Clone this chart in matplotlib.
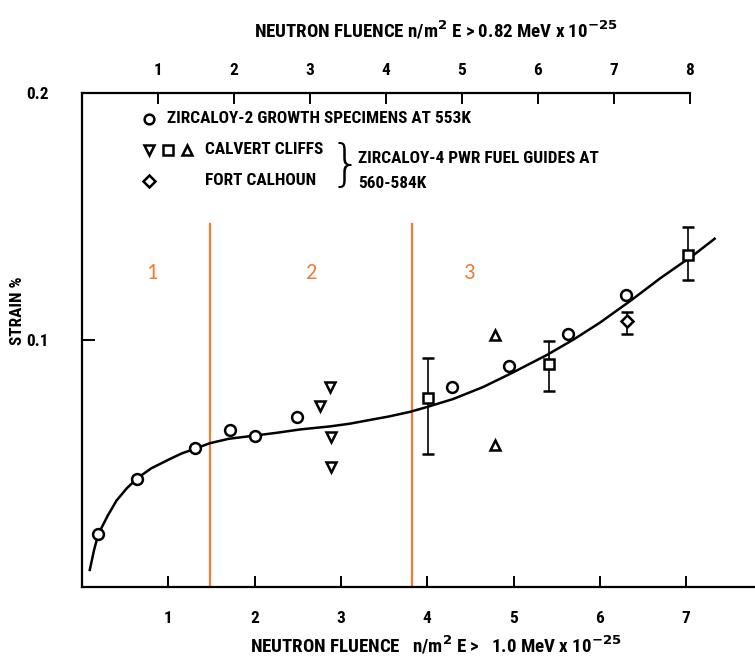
import matplotlib
matplotlib.use("Agg")
import matplotlib.pyplot as plt
from matplotlib import font_manager

# pick a narrow face if one is installed, the scan uses a condensed lettering
names = {f.name for f in font_manager.fontManager.ttflist}
narrow = [n for n in ['Liberation Sans Narrow', 'DejaVu Sans Condensed', 'Roboto Condensed',
                      'Open Sans Condensed'] if n in names]
plt.rcParams['font.family'] = narrow + ['DejaVu Sans']
plt.rcParams['font.weight'] = 'bold'
plt.rcParams['axes.labelweight'] = 'bold'
txt_size = 12.4 if narrow else 10

# Zircaloy-2 growth specimens (circles)
zr2_x = [0.19, 0.64, 1.31, 1.71, 2.01, 2.49, 4.29, 4.95, 5.63, 6.30]
zr2_y = [0.0215, 0.0439, 0.0561, 0.0634, 0.0610, 0.0687, 0.0810, 0.0894, 0.1024, 0.1183]

# Calvert Cliffs
cc_down_x = [2.87, 2.76, 2.88, 2.88]
cc_down_y = [0.0810, 0.0732, 0.0606, 0.0484]
cc_sq_x = [4.01, 5.41, 7.02]
cc_sq_y = [0.0764, 0.0902, 0.1346]
cc_sq_lo = [0.0537, 0.0793, 0.1244]
cc_sq_hi = [0.0927, 0.0996, 0.1459]
cc_up_x = [4.79, 4.78]
cc_up_y = [0.1020, 0.0573]

# Fort Calhoun
fc_x = [6.31]
fc_y = [0.1077]
fc_lo = [0.1024]
fc_hi = [0.1114]

curve_x = [0.09, 0.14, 0.19, 0.3, 0.4, 0.52, 0.64, 0.8, 1.0, 1.15, 1.31, 1.48, 1.7,
           2.0, 2.25, 2.53, 2.87, 3.1, 3.3, 3.55, 3.8, 4.0, 4.3, 4.65, 4.99, 5.39,
           5.7, 6.0, 6.36, 6.7, 7.09, 7.33]
curve_y = [0.0069, 0.0150, 0.0215, 0.0290, 0.0350, 0.0400, 0.0440, 0.0480, 0.0515,
           0.0540, 0.0560, 0.0582, 0.0600, 0.0613, 0.0624, 0.0638, 0.0650, 0.0661,
           0.0674, 0.0690, 0.0709, 0.0729, 0.0761, 0.0810, 0.0868, 0.0940, 0.1003,
           0.1070, 0.1160, 0.1250, 0.1345, 0.1410]

stage_lines = [1.48, 3.82]
stage_labels = ['1', '2', '3']
stage_label_x = [0.81, 2.66, 4.49]

fig = plt.figure(figsize=(7.55, 6.64), dpi=100)
ax = fig.add_axes([82 / 755, 77 / 664, 0.9374, 0.744])
ax.set_xlim(0, 8.2)
ax.set_ylim(0, 0.2)

orange = '#ED7D31'
for xv in stage_lines:
    ax.plot([xv, xv], [0, 0.147], color=orange, lw=1.6, zorder=1)
for lab, xv in zip(stage_labels, stage_label_x):
    ax.text(xv, 0.127, lab, color=orange, fontsize=16, fontweight='normal',
            family=['Carlito', 'Liberation Sans', 'DejaVu Sans'], ha='center', va='center')

ax.plot(curve_x, curve_y, color='black', lw=1.8, zorder=2)

mk = dict(markerfacecolor='white', markeredgecolor='black', markeredgewidth=1.8,
          linestyle='none', zorder=3)
ax.plot(zr2_x, zr2_y, marker='o', markersize=7.8, **mk)
ax.plot(cc_down_x, cc_down_y, marker='v', markersize=7, **mk)
ax.plot(cc_up_x, cc_up_y, marker='^', markersize=7, **mk)
ax.errorbar(cc_sq_x, cc_sq_y,
            yerr=[[y - lo for y, lo in zip(cc_sq_y, cc_sq_lo)],
                  [hi - y for y, hi in zip(cc_sq_y, cc_sq_hi)]],
            fmt='s', markersize=7.5, mfc='white', mec='black', mew=1.8,
            ecolor='black', elinewidth=1.2, capsize=4, capthick=1.2, zorder=3)
ax.errorbar(fc_x, fc_y,
            yerr=[[y - lo for y, lo in zip(fc_y, fc_lo)],
                  [hi - y for y, hi in zip(fc_y, fc_hi)]],
            fmt='D', markersize=6.5, mfc='white', mec='black', mew=1.8,
            ecolor='black', elinewidth=1.2, capsize=4, capthick=1.2, zorder=3)

# in-plot legend
ax.plot([0.78], [0.1895], marker='o', markersize=7, **mk)
ax.text(0.99, 0.1895, 'ZIRCALOY-2 GROWTH SPECIMENS AT 553K', fontsize=txt_size, va='center')
ax.plot([0.78], [0.177], marker='v', markersize=7, **mk)
ax.plot([1.0], [0.177], marker='s', markersize=7, **mk)
ax.plot([1.22], [0.177], marker='^', markersize=7, **mk)
ax.text(1.43, 0.177, 'CALVERT CLIFFS', fontsize=txt_size, va='center')
ax.plot([0.78], [0.1645], marker='D', markersize=6.5, **mk)
ax.text(1.43, 0.1645, 'FORT CALHOUN', fontsize=txt_size, va='center')
ax.text(3.05, 0.1705, '}', fontsize=36, fontweight='light', va='center', ha='center',
        family=['DejaVu Sans'])
ax.text(3.2, 0.1735, 'ZIRCALOY-4 PWR FUEL GUIDES AT', fontsize=txt_size, va='center')
ax.text(3.2, 0.1635, '560-584K', fontsize=txt_size, va='center')

for side in ['top', 'right']:
    ax.spines[side].set_visible(False)
ax.spines['left'].set_linewidth(1.6)
ax.spines['bottom'].set_linewidth(1.6)

ax.set_xticks([1, 2, 3, 4, 5, 6, 7, 8])
ax.set_yticks([0.1, 0.2])
ax.set_yticklabels(['0.1', '0.2'])
ax.tick_params(axis='x', direction='in', length=8, width=1.4, pad=17, labelsize=txt_size)
ax.tick_params(axis='y', direction='in', length=9, width=1.4, pad=24, labelsize=txt_size)
ax.set_xlabel('NEUTRON FLUENCE   n/m$^2$ E >   1.0 MeV x 10$^{-25}$', fontsize=txt_size + 1.2,
              labelpad=6)
ax.set_ylabel('STRAIN %', fontsize=txt_size)
ax.yaxis.set_label_coords(-0.081, 0.56)

top = ax.secondary_xaxis('top', functions=(lambda x: x / 0.88, lambda x: x * 0.88))
top.set_xticks([1, 2, 3, 4, 5, 6, 7, 8])
top.tick_params(direction='in', length=8, width=1.4, pad=11, labelsize=txt_size)
top.spines['top'].set_linewidth(1.6)
top.spines['top'].set_bounds(0, 8)
top.set_xlabel('NEUTRON FLUENCE n/m$^2$ E > 0.82 MeV x 10$^{-25}$', fontsize=txt_size + 1.2,
               labelpad=18)

fig.savefig('out.png', dpi=100)
